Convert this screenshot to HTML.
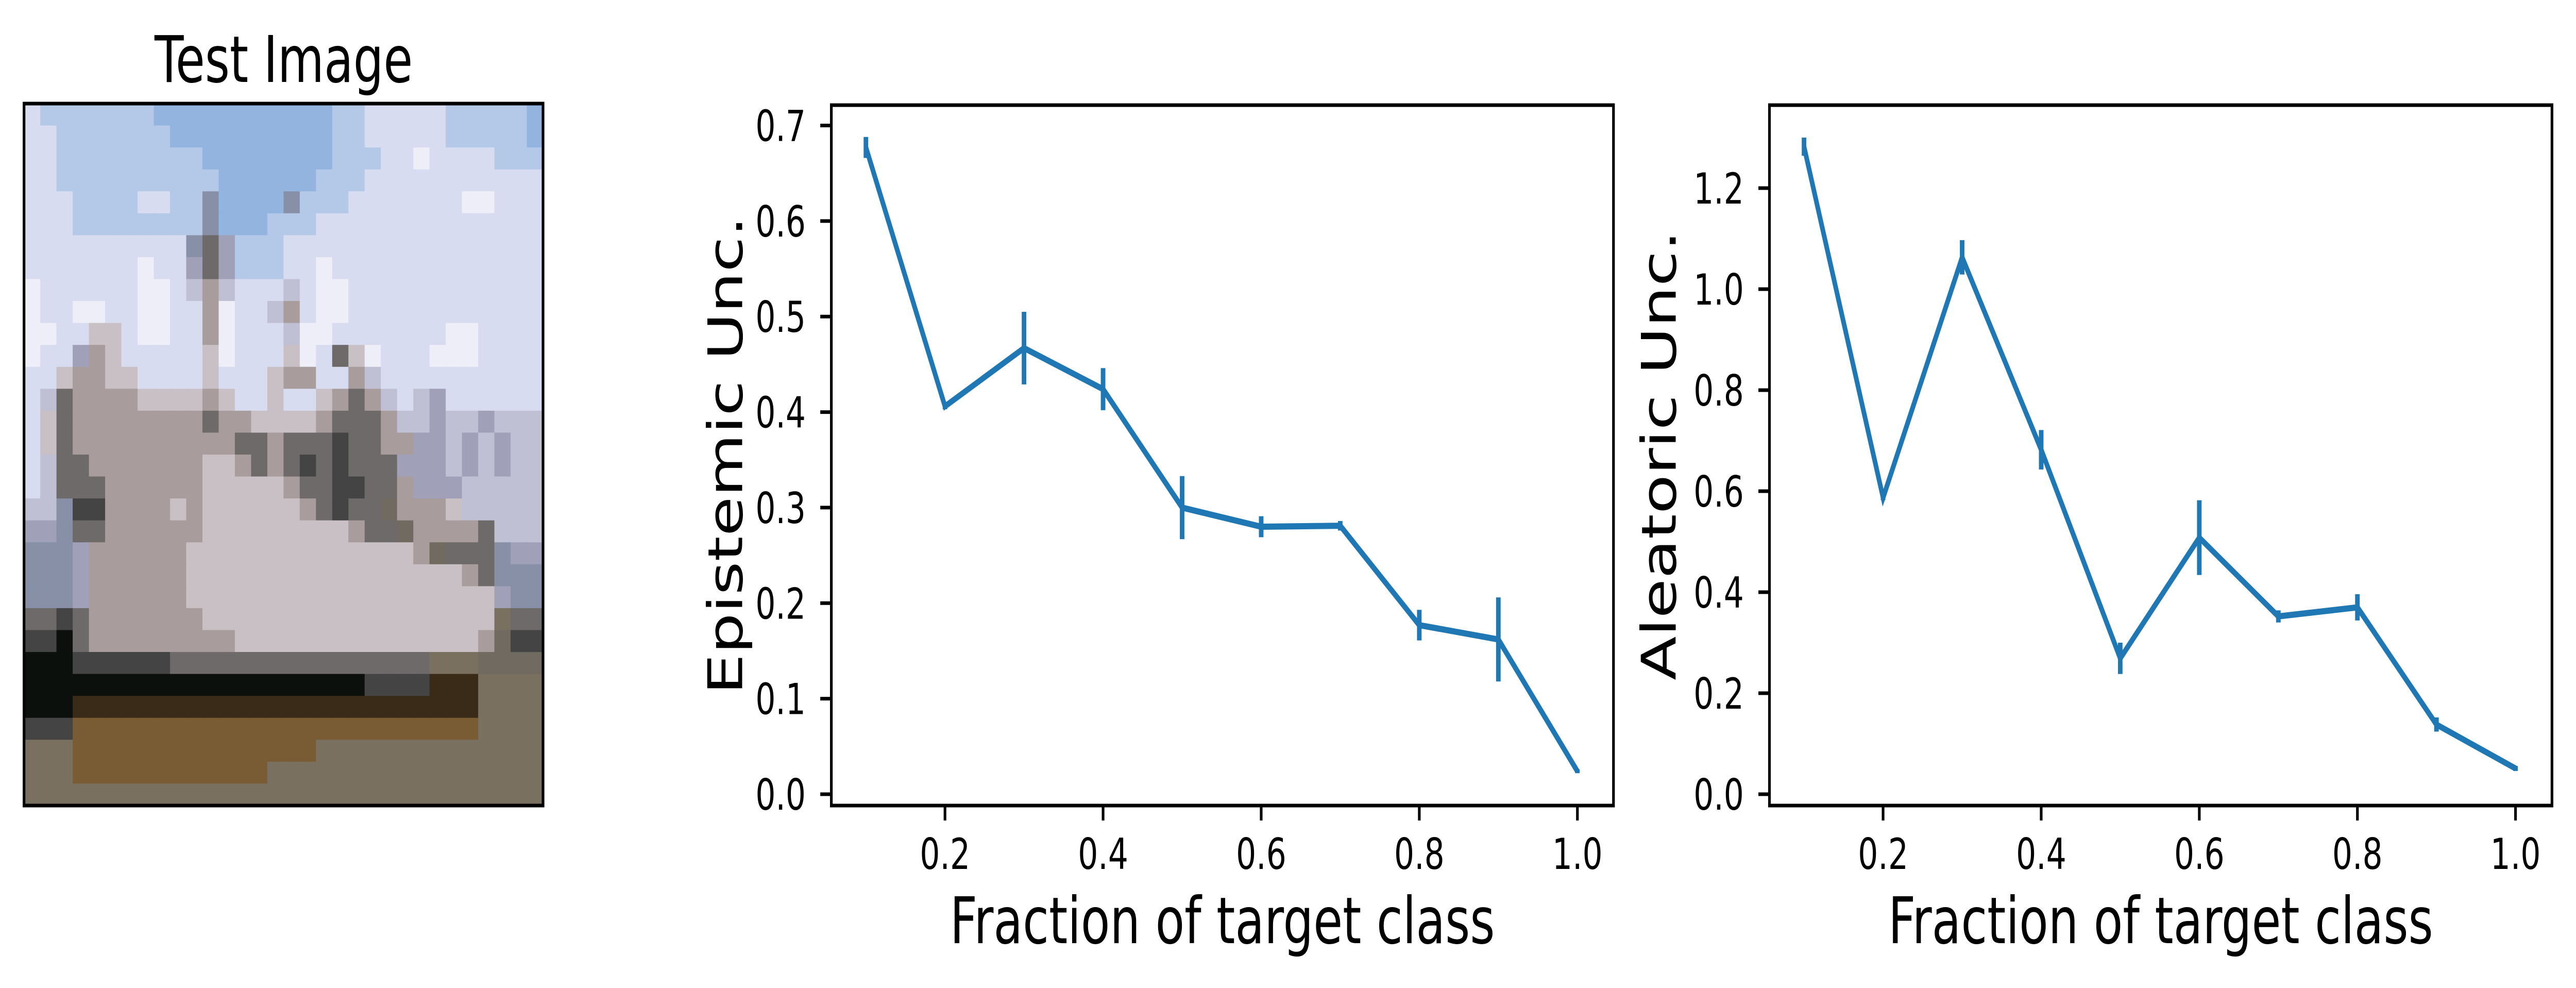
<!DOCTYPE html>
<html><head><meta charset="utf-8"><style>
html,body{margin:0;padding:0;background:#fff;width:100%;height:100%;overflow:hidden;}
svg{display:block;position:absolute;left:0;top:0;width:100vw;height:100vh;}
text{font-family:"DejaVu Sans","Liberation Sans",sans-serif;fill:#000;}
</style></head><body>
<svg id="fig" viewBox="0 0 6755 1917" preserveAspectRatio="none" xmlns="http://www.w3.org/2000/svg">
<rect width="6755" height="1917" fill="#fff"/>
<text x="744" y="159" font-size="125" text-anchor="middle">Test Image</text>
<g id="img"></g>
<rect x="63" y="201" width="1361" height="1362" fill="none" stroke="#000" stroke-width="7"/>
<g id="c1"></g>
<g id="c2"></g>
</svg>
<script>
const fractions = [0.1,0.2,0.3,0.4,0.5,0.6,0.7,0.8,0.9,1.0];
const epistemicValues = [0.677,0.406,0.467,0.424,0.300,0.280,0.281,0.177,0.162,0.024];
const epistemicErrors = [0.011,0.003,0.038,0.022,0.033,0.011,0.005,0.016,0.044,0.002];
const aleatoricValues = [1.282,0.587,1.063,0.682,0.269,0.508,0.352,0.370,0.138,0.051];
const aleatoricErrors = [0.018,0.005,0.034,0.039,0.031,0.074,0.012,0.026,0.014,0.005];
const xTicks = [0.2,0.4,0.6,0.8,1.0];
const xTickLabels = ["0.2","0.4","0.6","0.8","1.0"];
const epiYTicks = [0.0,0.1,0.2,0.3,0.4,0.5,0.6,0.7];
const epiYTickLabels = ["0.0","0.1","0.2","0.3","0.4","0.5","0.6","0.7"];
const aleYTicks = [0.0,0.2,0.4,0.6,0.8,1.0,1.2];
const aleYTickLabels = ["0.0","0.2","0.4","0.6","0.8","1.0","1.2"];

const NS="http://www.w3.org/2000/svg";
function mk(tag,attrs,parent){const e=document.createElementNS(NS,tag);for(const k in attrs)e.setAttribute(k,attrs[k]);parent.appendChild(e);return e;}

const pal={a:"#b4c8e8",b:"#94b4e0",c:"#d8dcf0",d:"#eeeef8",e:"#c8c0c4",f:"#a89c9c",g:"#6e6a6a",h:"#444444",k:"#0c100c",m:"#3a2a18",n:"#7a5c34",o:"#7a7060",p:"#8890a8",q:"#706a60",r:"#a0a0b8",s:"#c0c0d4"};
const rows=[
"caaaaaaa"+"bbbbbbbb"+"bbbaaccc"+"ccaaaaab",
"ccaaaaaa"+"abbbbbbb"+"bbbaaccc"+"ccaaaaab",
"ccaaaaaa"+"aaabbbbb"+"bbbaaacc"+"dccccaaa",
"ccaaaaaa"+"aaaabbbb"+"bbaaaccc"+"cccccccc",
"cccaaaac"+"caapbbbb"+"paaacccc"+"cccddccc",
"cccaaaaa"+"aaapbbba"+"aacccccc"+"cccccccc",
"cccccccc"+"ccpgraaa"+"cccccccc"+"cccccccc",
"cccccccd"+"ccrgraaa"+"ccdccccc"+"cccccccc",
"dccccccd"+"dcsfsccc"+"scddcccc"+"cccccccc",
"dccddccd"+"dccfdccs"+"fcddcccc"+"cccccccc",
"ddcceecd"+"dccfdccc"+"sddccccc"+"ccddcccc",
"dccrfecc"+"cccedccc"+"edcgedcc"+"cdddcccc",
"cceffeec"+"ccceccce"+"ffccfscc"+"cccccccc",
"csgffffe"+"eeefecce"+"ccefgfsc"+"srcccccc",
"cegfffff"+"fffgffee"+"eefgggfs"+"srssrsss",
"cegfffff"+"fffffggf"+"ggghggff"+"rrsrsrss",
"csggffff"+"fffeefgf"+"ghghgggr"+"rrsrsrss",
"csgggfff"+"fffeeeee"+"fgghhggf"+"rrrsssss",
"ssphhfff"+"fefeeeee"+"efghggqf"+"ffesssss",
"rrpggfff"+"fffeeeee"+"eeeefggq"+"ffffgsss",
"ppprffff"+"ffeeeeee"+"eeeeeeee"+"fqgggprr",
"ppprffff"+"ffeeeeee"+"eeeeeeee"+"eeefgppp",
"ppprffff"+"ffeeeeee"+"eeeeeeee"+"eeeeerpp",
"gghgffff"+"fffeeeee"+"eeeeeeee"+"eeeeeogg",
"hhkgffff"+"fffffeee"+"eeeeeeee"+"eeeefqhh",
"kkkhhhhh"+"hggggggg"+"gggggggg"+"goooqqqq",
"kkkkkkkk"+"kkkkkkkk"+"kkkkkhhh"+"hmmmoooo",
"kkkmmmmm"+"mmmmmmmm"+"mmmmmmmm"+"mmmmoooo",
"hhhnnnnn"+"nnnnnnnn"+"nnnnnnnn"+"nnnnoooo",
"ooonnnnn"+"nnnnnnnn"+"nnoooooo"+"oooooooo",
"ooonnnnn"+"nnnnnnno"+"oooooooo"+"oooooooo",
"oooooooo"+"oooooooo"+"oooooooo"+"oooooooo"];
const img=document.getElementById('img');
const px=1361/32, py=1362/32;
rows.forEach((r,i)=>{for(let j=0;j<32;j++){const ch=r[j];
 const cell=mk('rect',{x:(63+j*px).toFixed(2),y:(201+i*py).toFixed(2),width:(px+0.8).toFixed(2),height:(py+0.8).toFixed(2),fill:pal[ch]},img);
 
 
}});

function chart(g,box,ymin,ymax,vals,errs,yt,ytl,ylabel,ylabelX){
 const L=box[0],T=box[1],R=box[2],B=box[3];
 const xs=v=>L+298+(v-0.2)*2073;
 const ys=v=>B-(v-ymin)/(ymax-ymin)*(B-T);
 let d="";fractions.forEach((f,i)=>{d+=(i?"L":"M")+xs(f).toFixed(1)+","+ys(vals[i]).toFixed(1);});
 const ln=mk('path',{d:d,fill:"none",stroke:"#1f77b4","stroke-width":12},g);
 
 
 fractions.forEach((f,i)=>{
  const eb=mk('line',{x1:xs(f),x2:xs(f),y1:ys(vals[i]-errs[i]),y2:ys(vals[i]+errs[i]),stroke:"#1f77b4","stroke-width":12},g);
  
  
 });
 const fr=mk('rect',{x:L,y:T,width:R-L,height:B-T,fill:"none",stroke:"#000","stroke-width":7},g);
 
 
 xTicks.forEach((v,i)=>{
  const t=mk('line',{x1:xs(v),x2:xs(v),y1:B,y2:B+29,stroke:"#000","stroke-width":7},g);
  
  
  const tl=mk('text',{x:xs(v),y:B+123,"font-size":83,"text-anchor":"middle"},g);
  tl.textContent=xTickLabels[i];
  
  
 });
 yt.forEach((v,i)=>{
  const t=mk('line',{x1:L-29,x2:L,y1:ys(v),y2:ys(v),stroke:"#000","stroke-width":7},g);
  
  
  const tl=mk('text',{x:L-67,y:ys(v)+30,"font-size":83,"text-anchor":"end"},g);
  tl.textContent=ytl[i];
  
  
 });
 const xl=mk('text',{x:(L+R)/2,y:1830,"font-size":125,"text-anchor":"middle"},g);
 xl.textContent="Fraction of target class";
 
 
 const yc=(T+B)/2;
 const yl=mk('text',{x:ylabelX,y:yc,"font-size":125,"text-anchor":"middle",transform:`rotate(-90 ${ylabelX} ${yc})`},g);
 yl.textContent=ylabel;
 
 
}
const e1=1541,e7=243.5; const s1=(e1-e7)/0.7;
chart(document.getElementById('c1'),[2180,204,4231,1563],-(1563-e1)/s1,(e1-204)/s1,epistemicValues,epistemicErrors,epiYTicks,epiYTickLabels,"Epistemic Unc.",1946);
const s2=(1541-365)/1.2;
chart(document.getElementById('c2'),[4640,204,6692,1563],-(1563-1541)/s2,(1541-204)/s2,aleatoricValues,aleatoricErrors,aleYTicks,aleYTickLabels,"Aleatoric Unc.",4394);
</script>
</body></html>
